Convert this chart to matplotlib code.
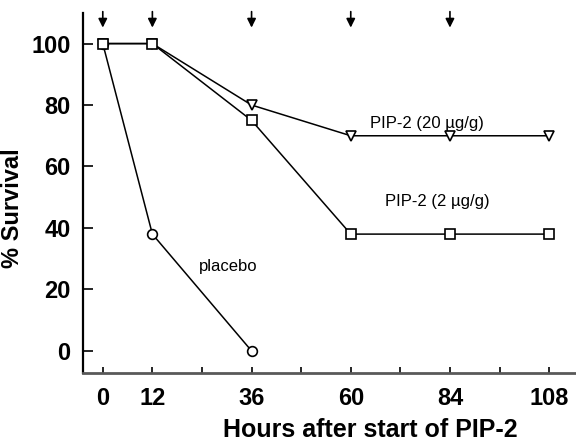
import numpy as np
from matplotlib import pyplot as plt

plt.rcParams['font.family'] = ['Liberation Sans', 'DejaVu Sans']

# survival data
hours_pip = [0, 12, 36, 60, 84, 108]
surv_20 = [100, 100, 80, 70, 70, 70]
surv_2 = [100, 100, 75, 38, 38, 38]
hours_placebo = [0, 12, 36]
surv_placebo = [100, 38, 0]

dose_hours = [0, 12, 36, 60, 84]
tick_hours = [0, 12, 24, 36, 48, 60, 72, 84, 96, 108]
label_hours = ['0', '12', '', '36', '', '60', '', '84', '', '108']
y_ticks = [0, 20, 40, 60, 80, 100]

figure = plt.figure(figsize=(5.76, 4.43), dpi=100)
axes = figure.add_axes([0.144, 0.158, 0.856, 0.813])

line_kw = dict(color='black', linewidth=1.1, markersize=7,
               markerfacecolor='white', markeredgecolor='black',
               markeredgewidth=1.2, clip_on=False)
# placebo first so the squares cover its first point
axes.plot(hours_placebo, surv_placebo, marker='o', **line_kw)
axes.plot(hours_pip, surv_20, marker='v', **line_kw)
axes.plot(hours_pip, surv_2, marker='s', **line_kw)

# dosing arrows
for h in dose_hours:
    axes.annotate('', xy=(h, 105.2), xytext=(h, 110.4),
                  arrowprops=dict(arrowstyle='-|>', color='black', lw=1.2,
                                  mutation_scale=13, shrinkA=0, shrinkB=0),
                  annotation_clip=False)

axes.text(78.5, 74, 'PIP-2 (20 \u00b5g/g)', fontsize=12, ha='center', va='center')
axes.text(81, 48.6, 'PIP-2 (2 \u00b5g/g)', fontsize=12, ha='center', va='center')
axes.text(30.3, 27.5, 'placebo', fontsize=12, ha='center', va='center')

axes.set_xlim(-4.8, 114.5)
axes.set_ylim(-7.2, 110)
axes.set_xticks(tick_hours)
axes.set_xticklabels(label_hours)
axes.set_yticks(y_ticks)

for side in ['top', 'right']:
    axes.spines[side].set_visible(False)
axes.spines['left'].set_linewidth(1.6)
axes.spines['bottom'].set_linewidth(2.0)
axes.spines['bottom'].set_color('0.35')

axes.tick_params(axis='x', direction='in', length=4, width=1.2, pad=10,
                 labelsize=17)
axes.tick_params(axis='y', direction='in', length=7, width=1.2, pad=9,
                 labelsize=17)
for lab in axes.get_xticklabels() + axes.get_yticklabels():
    lab.set_fontweight('bold')

axes.set_xlabel('Hours after start of PIP-2', fontsize=18, fontweight='bold')
axes.set_ylabel('% Survival', fontsize=17, fontweight='bold')
axes.xaxis.set_label_coords(0.582, -0.125)
axes.yaxis.set_label_coords(-0.12, 0.458)

figure.savefig('out.png', dpi=100)
